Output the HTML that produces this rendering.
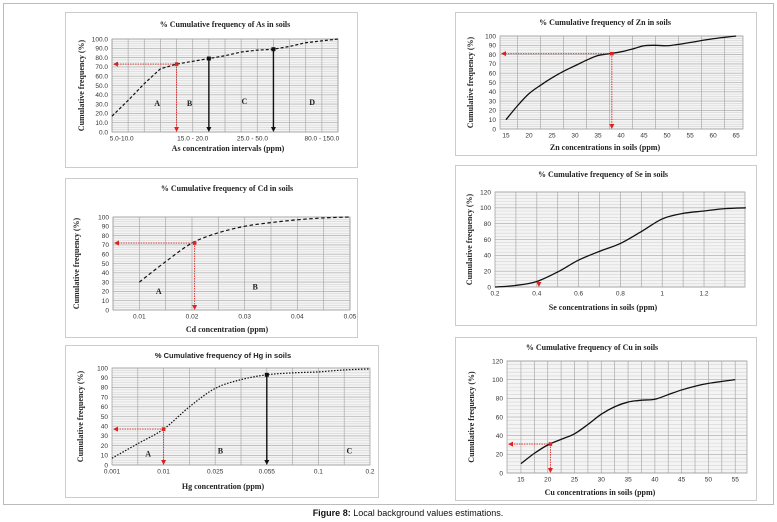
<!DOCTYPE html>
<html><head><meta charset="utf-8">
<style>
body{margin:0;background:#fff;width:777px;height:522px;overflow:hidden;font-family:"Liberation Serif",serif}
svg{display:block}
</style></head>
<body>
<svg id="fig" width="777" height="522" xmlns="http://www.w3.org/2000/svg">
<rect x="3.5" y="3.5" width="770" height="501" fill="none" stroke="#bbb"/>
<text x="408" y="516" text-anchor="middle" font-family="Liberation Sans, sans-serif" font-size="9" fill="#111"><tspan font-weight="bold">Figure 8:</tspan> Local background values estimations.</text>
</svg>
<script>
// ---- As ----
const asX=[0,1,2,3,4,5,6,7,8,9,10,11,12,13,14];
const asY=[17,34,52,68,73,76,79,82,86,88,89,92,96,98,100];
const asTickLabels=["5.0-10.0","15.0 - 20.0","25.0 - 50.0","80.0 - 150.0"];
const asTickPos=[0.6,5,8.7,13];
// ---- Zn ----
const znX=[15,17.5,20,22.5,25,27.5,30,32.5,35,37.5,40,42.5,45,47.5,50,52.5,55,60,65];
const znY=[10,25,38,47,55,62,68,74,79,81,83,86,89.5,90,89.5,91,93,97,100];
const znTicks=[15,20,25,30,35,40,45,50,55,60,65];
// ---- Cd ----
const cdX=[0.01,0.015,0.02,0.025,0.03,0.035,0.04,0.045,0.05];
const cdY=[30,52,72,83,90,94,97,99,100];
const cdTicks=[0.01,0.02,0.03,0.04,0.05];
// ---- Se ----
const seX=[0.2,0.3,0.4,0.5,0.6,0.7,0.8,0.9,1.0,1.1,1.2,1.3,1.4];
const seY=[0,2,7,19,34,45,55,70,86,93,96,99,100];
const seTicks=[0.2,0.4,0.6,0.8,1,1.2];
// ---- Hg ----
const hgX=[0,0.5,1,1.5,2,2.5,3,3.5,4,4.5,5];
const hgY=[7,22,37,60,79,88,93,95,96,98,99];
const hgTickLabels=["0.001","0.01","0.025","0.055","0.1","0.2"];
// ---- Cu ----
const cuX=[15,17.5,20,22.5,25,27.5,30,32.5,35,37.5,40,42.5,45,47.5,50,55];
const cuY=[10,21,30,36,42,52,63,71,76,78,79,84,89,93,96,100];
const cuTicks=[15,20,25,30,35,40,45,50,55];

const NS="http://www.w3.org/2000/svg";
const fig=document.getElementById('fig');
function mk(tag,attrs,parent){const e=document.createElementNS(NS,tag);for(const k in attrs)e.setAttribute(k,attrs[k]);(parent||fig).appendChild(e);return e;}
function txt(s,attrs,parent){const e=mk('text',attrs,parent);e.textContent=s;return e;}
function spline(pts){let d='M'+pts[0][0]+','+pts[0][1];for(let i=0;i<pts.length-1;i++){const p0=pts[i-1]||pts[i],p1=pts[i],p2=pts[i+1],p3=pts[i+2]||p2;d+=' C'+(p1[0]+(p2[0]-p0[0])/6)+','+(p1[1]+(p2[1]-p0[1])/6)+' '+(p2[0]-(p3[0]-p1[0])/6)+','+(p2[1]-(p3[1]-p1[1])/6)+' '+p2[0]+','+p2[1];}return d;}
function arrowHead(g,x,y,dir,color){let p;if(dir==='down')p=[[x-2.5,y-5],[x+2.5,y-5],[x,y]];else p=[[x+5,y-2.5],[x+5,y+2.5],[x,y]];const e=mk('polygon',{points:p.map(a=>a.join(',')).join(' '),fill:color},g);return e;}

function chart(c){
  const g=mk('g',{});
  
  
  const b=mk('rect',{x:c.box[0]+.5,y:c.box[1]+.5,width:c.box[2],height:c.box[3],fill:'#fff',stroke:'#ccc'},g);
  
  const [L,T,R,B]=c.plot;
  const sx=v=>L+(v-c.xd[0])/(c.xd[1]-c.xd[0])*(R-L);
  const sy=v=>B-(v-c.yd[0])/(c.yd[1]-c.yd[0])*(B-T);
  mk('rect',{x:L,y:T,width:R-L,height:B-T,fill:'#f4f4f4'},g);
  for(let v=c.yd[0];v<=c.yd[1]+1e-9;v+=c.yminor){mk('line',{x1:L,x2:R,y1:sy(v),y2:sy(v),stroke:'#d4d4d4','stroke-width':.6},g);}
  for(let v=c.yd[0];v<=c.yd[1]+1e-9;v+=c.ystep){mk('line',{x1:L,x2:R,y1:sy(v),y2:sy(v),stroke:'#aaa','stroke-width':.6},g);
    const t=txt(c.yfmt(v),{x:L-4,y:sy(v)+2.3,'text-anchor':'end','font-size':6.5,'font-family':'Liberation Sans, sans-serif',fill:'#333'},g);
    }
  for(const v of c.xgrid){mk('line',{x1:sx(v),x2:sx(v),y1:T,y2:B,stroke:'#aaa','stroke-width':.7},g);}
  mk('rect',{x:L,y:T,width:R-L,height:B-T,fill:'none',stroke:'#999','stroke-width':.7},g);
  c.xticks.forEach((v,i)=>{const t=txt(c.xlab[i],{x:sx(v),y:B+8.5,'text-anchor':'middle','font-size':6.5,'font-family':'Liberation Sans, sans-serif',fill:'#333'},g);
    });
  const tt=txt(c.title,{x:c.tpos[0],y:c.tpos[1],'text-anchor':'middle','font-size':c.tsize||8,'font-weight':'bold',fill:'#222','font-family':c.tfont||'Liberation Serif, serif'},g);
  
  const xt=txt(c.xtitle,{x:c.xtpos[0],y:c.xtpos[1],'text-anchor':'middle','font-size':8,'font-weight':'bold',fill:'#222'},g);
  
  const yt=txt('Cumulative frequency (%)',{x:0,y:0,'text-anchor':'middle','font-size':8,'font-weight':'bold',fill:'#222',transform:`translate(${c.ytx},${(T+B)/2}) rotate(-90)`},g);
  
  const pts=c.x.map((v,i)=>[sx(v),sy(c.y[i])]);
  const ln=mk('path',{d:c.smooth?spline(pts):'M'+pts.map(p=>p.join(',')).join(' L'),fill:'none',stroke:'#111','stroke-width':c.dash?1.2:1.3,'stroke-dasharray':c.dash||'none'},g);
  
  if(c.red){const [rx,ry]=c.red;const X=sx(rx),Y=sy(ry);
    const rg=mk('g',{},g);
    if(!c.redShort){mk('line',{x1:X,y1:Y,x2:L+6,y2:Y,stroke:'#d22','stroke-width':.9,'stroke-dasharray':'1.5,1'},rg);arrowHead(rg,L+1,Y,'left','#d22');}
    mk('line',{x1:X,y1:Y,x2:X,y2:B-4,stroke:'#d22','stroke-width':.9,'stroke-dasharray':'1.5,1'},rg);arrowHead(rg,X,B,'down','#d22');
    if(!c.redShort)mk('rect',{x:X-1.8,y:Y-1.8,width:3.6,height:3.6,fill:'#d22'},rg);}
  (c.black||[]).forEach(([bx,by])=>{const X=sx(bx),Y=sy(by);const kg=mk('g',{},g);
    
    mk('line',{x1:X,y1:Y,x2:X,y2:B-4,stroke:'#111','stroke-width':1.4},kg);arrowHead(kg,X,B,'down','#111');mk('rect',{x:X-2,y:Y-2,width:4,height:4,fill:'#111'},kg);});
  (c.zones||[]).forEach(([s,zx,zy])=>{const t=txt(s,{x:sx(zx),y:sy(zy),'text-anchor':'middle','font-size':8,'font-weight':'bold',fill:'#222'},g);
    });
}
const rng=(a,b,s)=>{const r=[];for(let v=a;v<=b+1e-9;v+=s)r.push(+v.toFixed(6));return r;};

chart({name:'as-chart',box:[65,12,292,155],plot:[112,39,338,132],xd:[0,14],yd:[0,100],ystep:10,yminor:2.5,yfmt:v=>v.toFixed(1),
  xgrid:rng(0,14,1),xticks:asTickPos,xlab:asTickLabels,x:asX,y:asY,dash:'3,2',title:'% Cumulative frequency of As in soils',tpos:[225,27],
  xtitle:'As concentration intervals (ppm)',xtpos:[228,151],ytx:84,red:[4,73],black:[[6,79],[10,89]],zones:[['A',2.8,28],['B',4.8,28],['C',8.2,30],['D',12.4,29]]});
chart({name:'zn-chart',box:[455,12,301,143],plot:[500,36,743,129],xd:[13.7,66.5],yd:[0,100],ystep:10,yminor:2.5,yfmt:v=>String(v),
  xgrid:rng(17.5,65,2.5).filter(v=>v%5!==0),xticks:znTicks,xlab:znTicks.map(String),x:znX,y:znY,smooth:true,title:'% Cumulative frequency of Zn in soils',tpos:[605,25],
  xtitle:'Zn concentrations in soils (ppm)',xtpos:[605,150],ytx:473,red:[38,81]});
chart({name:'cd-chart',box:[65,178,292,159],plot:[113,217,350,310],xd:[0.005,0.05],yd:[0,100],ystep:10,yminor:2.5,yfmt:v=>String(v),
  xgrid:rng(0.005,0.05,0.005),xticks:cdTicks,xlab:cdTicks.map(String),x:cdX,y:cdY,dash:'3.5,2.5',smooth:true,title:'% Cumulative frequency of Cd in soils',tpos:[227,191],
  xtitle:'Cd concentration (ppm)',xtpos:[227,332],ytx:79,red:[0.0205,72],zones:[['A',0.0137,17],['B',0.032,22]]});
chart({name:'se-chart',box:[455,165,301,160],plot:[495,192,745,287],xd:[0.2,1.396],yd:[0,120],ystep:20,yminor:4,yfmt:v=>String(v),
  xgrid:rng(0.3,1.3,0.1),xticks:seTicks,xlab:seTicks.map(String),x:seX,y:seY,smooth:true,title:'% Cumulative frequency of Se in soils',tpos:[603,177],
  xtitle:'Se concentrations in soils (ppm)',xtpos:[603,310],ytx:472,red:[0.41,7],redShort:true});
chart({name:'hg-chart',box:[65,345,313,152],plot:[112,368,370,465],xd:[0,5],yd:[0,100],ystep:10,yminor:2.5,yfmt:v=>String(v),
  xgrid:rng(0.5,4.5,0.5),xticks:[0,1,2,3,4,5],xlab:hgTickLabels,x:hgX,y:hgY,dash:'1.5,1.5',smooth:true,title:'% Cumulative frequency of Hg in soils',tpos:[223,358],
  tfont:'Liberation Sans, sans-serif',tsize:7.5,xtitle:'Hg concentration (ppm)',xtpos:[223,489],ytx:83,red:[1,37],black:[[3,93]],zones:[['A',0.7,9],['B',2.1,12],['C',4.6,12]]});
chart({name:'cu-chart',box:[455,337,301,163],plot:[507,361,747,473],xd:[12.4,57.2],yd:[0,120],ystep:20,yminor:4,yfmt:v=>String(v),
  xgrid:rng(15,55,2.5),xticks:cuTicks,xlab:cuTicks.map(String),x:cuX,y:cuY,smooth:true,title:'% Cumulative frequency of Cu in soils',tpos:[592,350],
  xtitle:'Cu concentrations in soils (ppm)',xtpos:[600,495],ytx:474,red:[20.5,31]});
</script>
</body></html>
